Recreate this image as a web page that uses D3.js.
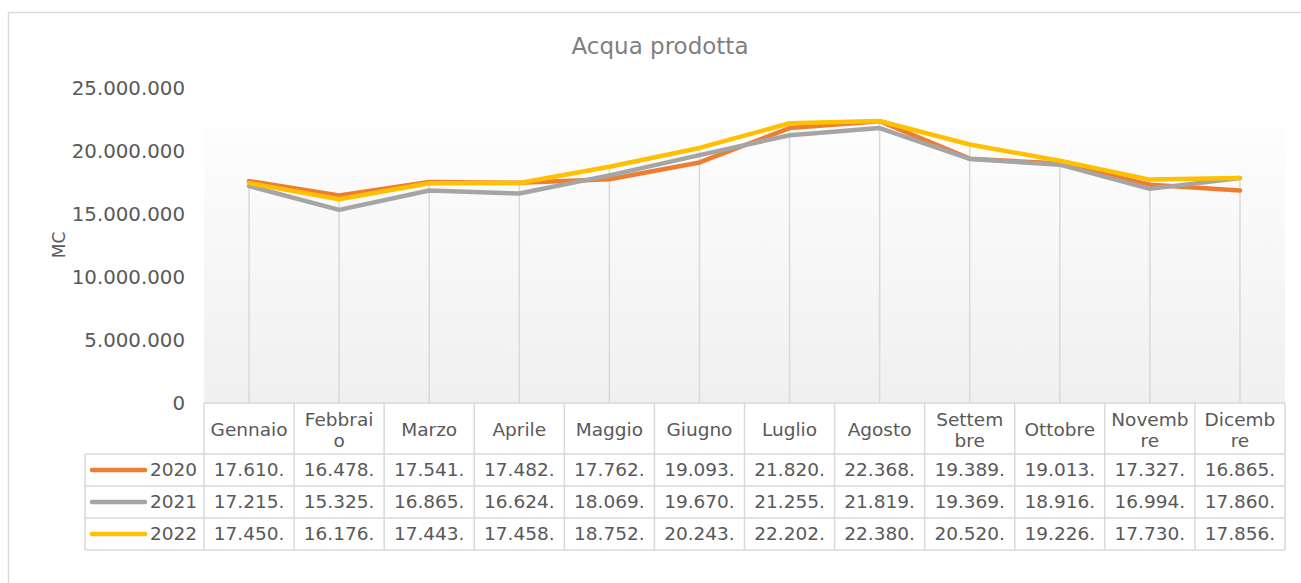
<!DOCTYPE html>
<html>
<head>
<meta charset="utf-8">
<script src="https://cdn.jsdelivr.net/npm/d3@7"></script>
<style>
  body { margin: 0; background: #fff; }
  text { font-family: "DejaVu Sans", Verdana, sans-serif; fill: #595959; }
</style>
</head>
<body>
<div id="my_dataviz"></div>
<script>
// data (table shows only the leading digits)
var months = ["Gennaio","Febbraio","Marzo","Aprile","Maggio","Giugno","Luglio","Agosto","Settembre","Ottobre","Novembre","Dicembre"];
var years = ["2020","2021","2022"];
var colors = ["#ED7D31","#A5A5A5","#FFC000"];
var v2020 = [17610000,16478000,17541000,17482000,17762000,19093000,21820000,22368000,19389000,19013000,17327000,16865000];
var v2021 = [17215000,15325000,16865000,16624000,18069000,19670000,21255000,21819000,19369000,18916000,16994000,17860000];
var v2022 = [17450000,16176000,17443000,17458000,18752000,20243000,22202000,22380000,20520000,19226000,17730000,17856000];
var yTicks = [0,5000000,10000000,15000000,20000000,25000000];

var series = [v2020, v2021, v2022];

var W = 1301, H = 583;
var plot = {left: 204, right: 1285, top: 88, bottom: 403};
var headerH = 51, rowH = 32;
var fs = 18.5;

var it = d3.formatLocale({decimal: ",", thousands: ".", grouping: [3], currency: ["", "€"]});
var fmt = it.format(",d");

var svg = d3.select("#my_dataviz")
    .append("svg")
    .attr("width", W)
    .attr("height", H);

// outer chart border (only top and left visible)
svg.append("path")
    .attr("d", "M8.5," + H + "V12.5H" + W)
    .attr("fill", "none")
    .attr("stroke", "#d9d9d9")
    .attr("stroke-width", 1.5);

// title
svg.append("text")
    .attr("x", 660)
    .attr("y", 47)
    .attr("text-anchor", "middle")
    .attr("dominant-baseline", "middle")
    .style("font-size", "23px")
    .style("fill", "#7f7f7f")
    .text("Acqua prodotta");

// scales
var x = d3.scaleBand()
    .domain(months)
    .range([plot.left, plot.right])
    .padding(0);
var y = d3.scaleLinear()
    .domain([0, 25000000])
    .range([plot.bottom, plot.top]);

// plot area gradient
var grad = svg.append("defs").append("linearGradient")
    .attr("id", "pg")
    .attr("x1", 0).attr("y1", 0).attr("x2", 0).attr("y2", 1);
grad.append("stop").attr("offset", "0%").attr("stop-color", "#fdfdfd");
grad.append("stop").attr("offset", "100%").attr("stop-color", "#f0f0f0");
svg.append("rect")
    .attr("x", plot.left)
    .attr("y", 128)
    .attr("width", plot.right - plot.left)
    .attr("height", plot.bottom - 128)
    .attr("fill", "url(#pg)");

// y axis labels
var yAxis = svg.append("g")
    .attr("transform", "translate(" + (plot.left - 12) + ",0)")
    .call(d3.axisLeft(y).tickValues(yTicks).tickFormat(fmt).tickSize(0).tickPadding(7));
yAxis.select(".domain").remove();
yAxis.selectAll("text")
    .style("font-size", "19.8px")
    .style("fill", "#595959")
    .attr("font-family", null);

svg.append("text")
    .attr("transform", "translate(60," + 245 + ") rotate(-90)")
    .attr("text-anchor", "middle")
    .attr("dominant-baseline", "middle")
    .style("font-size", "17px")
    .text("MC");

// drop lines from the highest point down to the axis
svg.append("g")
    .selectAll("line")
    .data(months)
    .enter().append("line")
    .attr("x1", function(d) { return x(d) + x.bandwidth() / 2; })
    .attr("x2", function(d) { return x(d) + x.bandwidth() / 2; })
    .attr("y1", function(d, i) { return y(d3.max(series, function(s) { return s[i]; })); })
    .attr("y2", plot.bottom)
    .attr("stroke", "#d9d9d9")
    .attr("stroke-width", 1.5);

// lines
var line = d3.line()
    .x(function(d, i) { return x(months[i]) + x.bandwidth() / 2; })
    .y(function(d) { return y(d); });
svg.append("g")
    .selectAll("path")
    .data(series)
    .enter().append("path")
    .attr("d", line)
    .attr("fill", "none")
    .attr("stroke", function(d, i) { return colors[i]; })
    .attr("stroke-width", 4.5)
    .attr("stroke-linejoin", "round")
    .attr("stroke-linecap", "round");

// ---- data table ----
var tbl = svg.append("g");
var border = "#d9d9d9";
var maxW = x.bandwidth() - 12.5;

// fit text into the cell by trimming characters (like Excel does)
function fitText(sel, s) {
    sel.text(s);
    while (s.length > 1 && sel.node().getComputedTextLength() > maxW) {
        s = s.slice(0, -1);
        sel.text(s);
    }
    return s;
}

// header cells
var headerTop = plot.bottom;
months.forEach(function(m) {
    var cx = x(m) + x.bandwidth() / 2;
    var probe = tbl.append("text").style("font-size", fs + "px");
    var first = fitText(probe, m);
    probe.remove();
    var lines = [first];
    if (first.length < m.length) lines.push(m.slice(first.length));
    var lh = 21;
    var y0 = headerTop + headerH / 2 - (lines.length - 1) * lh / 2 + 2.5;
    lines.forEach(function(l, k) {
        tbl.append("text")
            .attr("x", cx)
            .attr("y", y0 + k * lh)
            .attr("text-anchor", "middle")
            .attr("dominant-baseline", "middle")
            .style("font-size", fs + "px")
            .text(l);
    });
});

// value rows
var legLeft = 85;
series.forEach(function(s, r) {
    var cy = headerTop + headerH + r * rowH + rowH / 2;
    tbl.append("line")
        .attr("x1", 92).attr("x2", 145)
        .attr("y1", cy).attr("y2", cy)
        .attr("stroke", colors[r])
        .attr("stroke-width", 4.5)
        .attr("stroke-linecap", "round");
    tbl.append("text")
        .attr("x", 150)
        .attr("y", cy + 1)
        .attr("dominant-baseline", "middle")
        .style("font-size", fs + "px")
        .text(years[r]);
    s.forEach(function(v, i) {
        var t = tbl.append("text")
            .attr("x", x(months[i]) + x.bandwidth() / 2)
            .attr("y", cy + 1)
            .attr("text-anchor", "middle")
            .attr("dominant-baseline", "middle")
            .style("font-size", fs + "px");
        fitText(t, fmt(v));
    });
});

// table grid
var tableBottom = headerTop + headerH + series.length * rowH;
var g = tbl.append("g")
    .attr("stroke", border)
    .attr("stroke-width", 1.5)
    .attr("fill", "none");
// horizontal lines
g.append("line").attr("x1", plot.left).attr("x2", plot.right).attr("y1", headerTop).attr("y2", headerTop);
for (var r = 0; r <= series.length; r++) {
    var yy = headerTop + headerH + r * rowH;
    g.append("line").attr("x1", legLeft).attr("x2", plot.right).attr("y1", yy).attr("y2", yy);
}
// vertical lines
g.append("line").attr("x1", legLeft).attr("x2", legLeft).attr("y1", headerTop + headerH).attr("y2", tableBottom);
months.forEach(function(m) {
    g.append("line").attr("x1", x(m)).attr("x2", x(m)).attr("y1", headerTop).attr("y2", tableBottom);
});
g.append("line").attr("x1", plot.right).attr("x2", plot.right).attr("y1", headerTop).attr("y2", tableBottom);
</script>
</body>
</html>
